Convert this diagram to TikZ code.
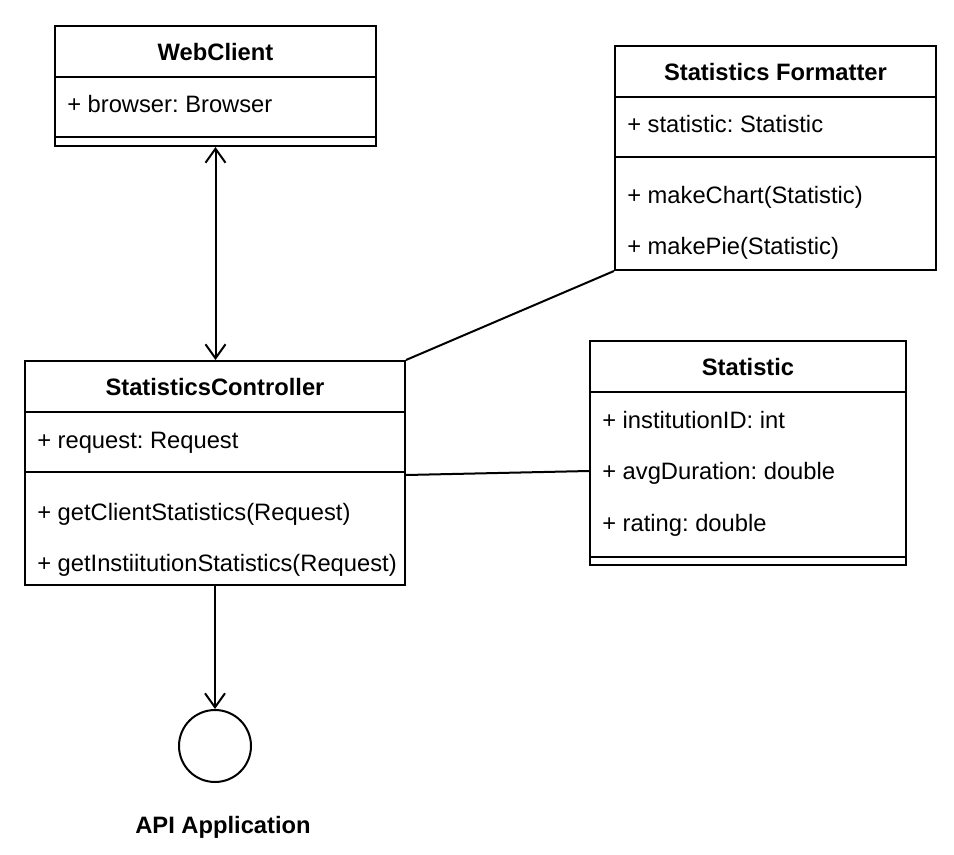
\documentclass[tikz,border=0pt]{standalone}
\usepackage{fontspec}
\setmainfont{Liberation Sans}
\usetikzlibrary{arrows.meta}
\frenchspacing
\begin{document}
\begin{tikzpicture}[x=0.75pt,y=-0.75pt,
  box/.style={draw, line width=1.5pt, rectangle, inner sep=0pt, anchor=north west},
  ttl/.style={font=\fontsize{17.8}{20}\selectfont\bfseries, inner sep=0pt, anchor=base},
  mem/.style={font=\fontsize{17.8}{20}\selectfont, inner sep=0pt, anchor=base west},
  sep/.style={line width=1.5pt},
  conn/.style={line width=1.5pt},
  barb/.tip={Straight Barb[length=10.5pt,width=15pt,line width=1.5pt]}]
\useasboundingbox (0,0) rectangle (954,854);

% WebClient
\node[box, minimum width=321*0.75pt, minimum height=120*0.75pt] (wc) at (54,25) {};
\draw[sep] (wc.west |- 0,77) -- (wc.east |- 0,77);
\draw[sep] (wc.west |- 0,137) -- (wc.east |- 0,137);
\node[ttl] (wcT) at (wc.north |- 0,60) {WebClient};
\node[mem] (wcA) at (67,112) {+ browser: Browser};

% Statistics Formatter
\node[box, minimum width=321*0.75pt, minimum height=224*0.75pt] (sf) at (614,45) {};
\draw[sep] (sf.west |- 0,97) -- (sf.east |- 0,97);
\draw[sep] (sf.west |- 0,157) -- (sf.east |- 0,157);
\node[ttl] (sfT) at (sf.north |- 0,80) {Statistics Formatter};
\node[mem] (sfA) at (627,132) {+ statistic: Statistic};
\node[mem] (sfM1) at (627,203) {+ makeChart(Statistic)};
\node[mem] (sfM2) at (627,254) {+ makePie(Statistic)};

% StatisticsController
\node[box, minimum width=380*0.75pt, minimum height=224*0.75pt] (sc) at (24,360) {};
\draw[sep] (sc.west |- 0,412) -- (sc.east |- 0,412);
\draw[sep] (sc.west |- 0,472) -- (sc.east |- 0,472);
\node[ttl] (scT) at (sc.north |- 0,395) {StatisticsController};
\node[mem] (scA) at (37,448) {+ request: Request};
\node[mem] (scM1) at (37,520) {+ getClientStatistics(Request)};
\node[mem] (scM2) at (37,571) {+ getInstiitutionStatistics(Request)};

% Statistic
\node[box, minimum width=316*0.75pt, minimum height=224*0.75pt] (st) at (589,340) {};
\draw[sep] (st.west |- 0,392) -- (st.east |- 0,392);
\draw[sep] (st.west |- 0,557) -- (st.east |- 0,557);
\node[ttl] (stT) at (st.north |- 0,375) {Statistic};
\node[mem] (stA1) at (602,428) {+ institutionID: int};
\node[mem] (stA2) at (602,479) {+ avgDuration: double};
\node[mem] (stA3) at (602,531) {+ rating: double};

% API Application
\node[draw, circle, line width=1.5pt, minimum size=72*0.75pt, inner sep=0pt] (api) at (215,746) {};
\node[ttl] (apiT) at (223,833) {API Application};

% connectors
\draw[conn, barb-barb] (wc.south) -- (wc.south |- sc.north);
\draw[conn, -barb] (sc.south) -- (sc.south |- api.north);
\draw[conn] (sc.north east) -- (sf.south west);
\draw[conn] ([yshift=-1.5pt]sc.east) -- ([yshift=-13.5pt]st.west);
\end{tikzpicture}
\end{document}
